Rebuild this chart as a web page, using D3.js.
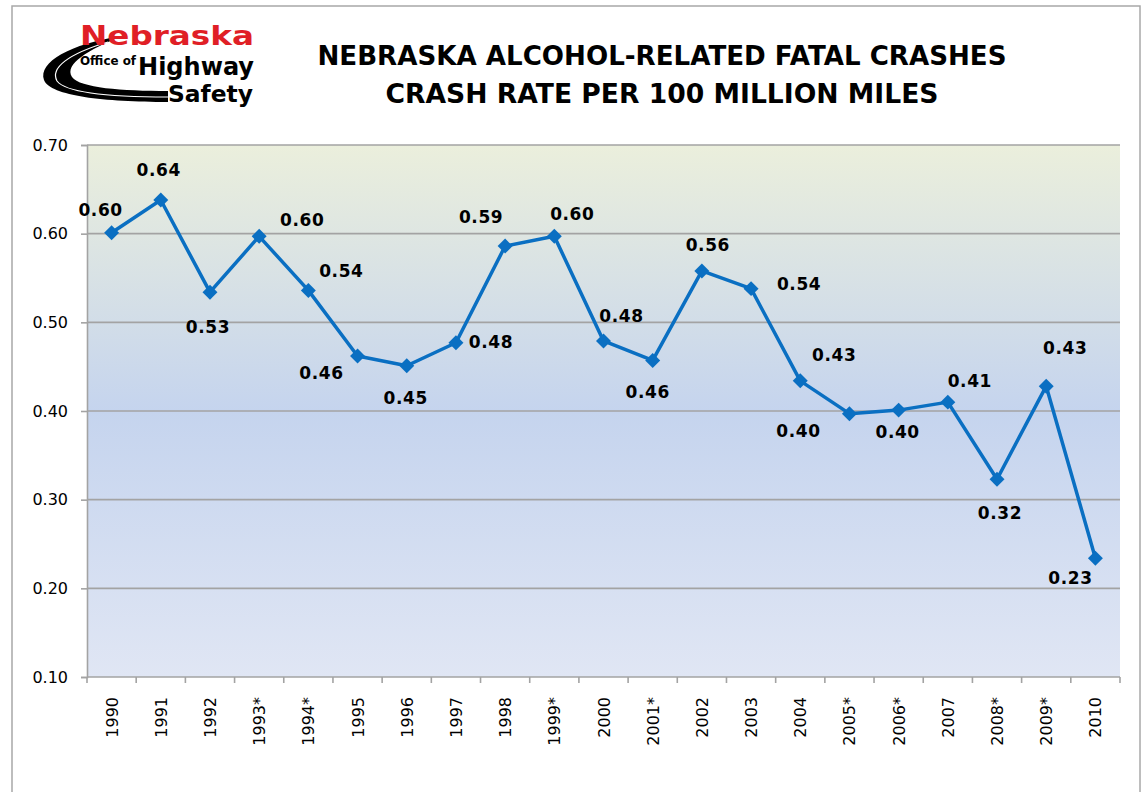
<!DOCTYPE html>
<html>
<head>
<meta charset="utf-8">
<script src="https://cdn.jsdelivr.net/npm/d3@7"></script>
<style>
  html, body { margin: 0; padding: 0; background: #fff; }
  svg { display: block; }
</style>
</head>
<body>
<svg id="chart" width="1142" height="792"></svg>
<script>
// chart data
const years = ["1990", "1991", "1992", "1993*", "1994*", "1995", "1996", "1997", "1998", "1999*",
  "2000", "2001*", "2002", "2003", "2004", "2005*", "2006*", "2007", "2008*", "2009*", "2010"];
const crashRate = [0.601, 0.638, 0.534, 0.597, 0.536, 0.462, 0.451, 0.477, 0.586, 0.597,
  0.479, 0.457, 0.558, 0.538, 0.434, 0.397, 0.401, 0.410, 0.323, 0.428, 0.234];
const yTicks = [0.10, 0.20, 0.30, 0.40, 0.50, 0.60, 0.70];
const titleLines = ["NEBRASKA ALCOHOL-RELATED FATAL CRASHES", "CRASH RATE PER 100 MILLION MILES"];

// where each data label sits relative to its point (manual, like in the source)
const labelOffsets = [[-11, -23], [-2, -30], [-2, 35], [43, -16], [33, -20], [-36, 17], [-1, 32],
  [35, -1], [-24, -29], [18, -22], [18, -25], [-5, 31], [6, -26], [48, -5], [34, -26], [-51, 17],
  [-1, 22], [22, -21], [3, 34], [19, -38], [-25, 20]];

const svg = d3.select('#chart');
const margin = { left: 87, right: 1120, top: 145, bottom: 677 };
const lineColor = "#0a6fc2";
const gridColor = "#a3a3a3";

// outer frame
svg.append("rect")
  .attr("x", 12).attr("y", 6)
  .attr("width", 1128).attr("height", 800)
  .attr("fill", "#fff")
  .attr("stroke", "#a8a8a8")
  .attr("stroke-width", 1.5);

// plot area gradient
const defs = svg.append("defs");
const grad = defs.append("linearGradient")
  .attr("id", "bg").attr("x1", 0).attr("y1", 0).attr("x2", 0).attr("y2", 1);
grad.append("stop").attr("offset", "0%").attr("stop-color", "#ebefdc");
grad.append("stop").attr("offset", "50%").attr("stop-color", "#c5d4ee");
grad.append("stop").attr("offset", "100%").attr("stop-color", "#e0e6f4");

const x = d3.scaleBand().domain(years).range([margin.left, margin.right]).padding(0);
const y = d3.scaleLinear().domain([0.1, 0.7]).range([margin.bottom, margin.top]);

svg.append("rect")
  .attr("x", margin.left).attr("y", margin.top)
  .attr("width", margin.right - margin.left)
  .attr("height", margin.bottom - margin.top)
  .attr("fill", "url(#bg)");

// gridlines
svg.append("g")
  .selectAll("line")
  .data(yTicks.filter(t => t > 0.1))
  .join("line")
  .attr("x1", margin.left).attr("x2", margin.right)
  .attr("y1", d => y(d)).attr("y2", d => y(d))
  .attr("stroke", gridColor)
  .attr("stroke-width", 1.6);

// y axis
const yAxis = svg.append("g")
  .attr("transform", `translate(${margin.left},0)`)
  .call(d3.axisLeft(y).tickValues(yTicks).tickFormat(d3.format(".2f")).tickSize(6).tickPadding(13));
yAxis.select(".domain").attr("stroke", gridColor).attr("stroke-width", 1.6);
yAxis.selectAll(".tick line").attr("stroke", gridColor).attr("stroke-width", 1.6);
yAxis.selectAll("text")
  .attr("font-family", "DejaVu Sans, Verdana, sans-serif")
  .attr("font-size", 16)
  .attr("fill", "#000");

// x axis: ticks between categories, labels rotated
const xg = svg.append("g");
xg.append("line")
  .attr("x1", margin.left).attr("x2", margin.right)
  .attr("y1", margin.bottom).attr("y2", margin.bottom)
  .attr("stroke", gridColor).attr("stroke-width", 1.6);
xg.selectAll("line.tk")
  .data(years.map(d => x(d)).concat([margin.right]))
  .join("line")
  .attr("class", "tk")
  .attr("x1", d => d).attr("x2", d => d)
  .attr("y1", margin.bottom).attr("y2", margin.bottom + 6)
  .attr("stroke", gridColor).attr("stroke-width", 1.6);
xg.selectAll("text")
  .data(years)
  .join("text")
  .attr("transform", d => `translate(${x(d) + x.bandwidth() / 2 + 6},${margin.bottom + 20}) rotate(-90)`)
  .attr("text-anchor", "end")
  .attr("font-family", "DejaVu Sans, Verdana, sans-serif")
  .attr("font-size", 16)
  .attr("fill", "#000")
  .text(d => d);

// series line
const pts = years.map((yr, i) => ({ yr, v: crashRate[i], off: labelOffsets[i] }));
const cx = d => x(d.yr) + x.bandwidth() / 2;

svg.append("path")
  .datum(pts)
  .attr("fill", "none")
  .attr("stroke", lineColor)
  .attr("stroke-width", 3.5)
  .attr("stroke-linejoin", "round")
  .attr("d", d3.line().x(cx).y(d => y(d.v)));

svg.append("g")
  .selectAll("path")
  .data(pts)
  .join("path")
  .attr("d", d3.symbol(d3.symbolSquare, 112))
  .attr("transform", d => `translate(${cx(d)},${y(d.v)}) rotate(45)`)
  .attr("fill", lineColor);

// data labels
svg.append("g")
  .selectAll("text")
  .data(pts)
  .join("text")
  .attr("x", d => cx(d) + d.off[0])
  .attr("y", d => y(d.v) + d.off[1])
  .attr("dy", "0.36em")
  .attr("text-anchor", "middle")
  .attr("font-family", "Comic Sans MS, DejaVu Sans, sans-serif")
  .attr("font-weight", "bold")
  .attr("font-size", 17)
  .attr("letter-spacing", 0.6)
  .attr("fill", "#000")
  .text(d => d3.format(".2f")(d.v));

// title
svg.append("g")
  .selectAll("text")
  .data(titleLines)
  .join("text")
  .attr("x", 662)
  .attr("y", (d, i) => 65 + i * 38)
  .attr("text-anchor", "middle")
  .attr("font-family", "Comic Sans MS, DejaVu Sans, sans-serif")
  .attr("font-weight", "bold")
  .attr("font-size", 27)
  .attr("textLength", (d, i) => i === 0 ? 689 : 553)
  .attr("lengthAdjust", "spacingAndGlyphs")
  .attr("fill", "#000")
  .text(d => d);

// logo
const logo = svg.append("g");
logo.append("path")
  .attr("d", "M122,36 C70,44 38,62 44,80 C50,96 105,102 168,102 L168,91 C122,91 80,88 72,77 C64,64 88,50 122,36 Z")
  .attr("fill", "#000");
logo.append("path")
  .attr("d", "M108,42 C68,54 50,68 57,81 C66,93 115,97 168,97")
  .attr("fill", "none")
  .attr("stroke", "#fff")
  .attr("stroke-width", 1.2);
const logoFont = "DejaVu Sans Condensed, DejaVu Sans, sans-serif";
const logoText = (txt, x0, y0, size, len, color) => logo.append("text")
  .attr("x", x0).attr("y", y0)
  .attr("font-family", logoFont).attr("font-weight", "bold")
  .attr("font-size", size)
  .attr("textLength", len).attr("lengthAdjust", "spacingAndGlyphs")
  .attr("fill", color)
  .text(txt);
logoText("Nebraska", 80, 45, 26, 174, "#e01f26");
logoText("Office of", 80, 65, 12, 56, "#000");
logoText("Highway", 138, 75, 24, 116, "#000");
logoText("Safety", 168, 102, 23, 85, "#000");
</script>
</body>
</html>
